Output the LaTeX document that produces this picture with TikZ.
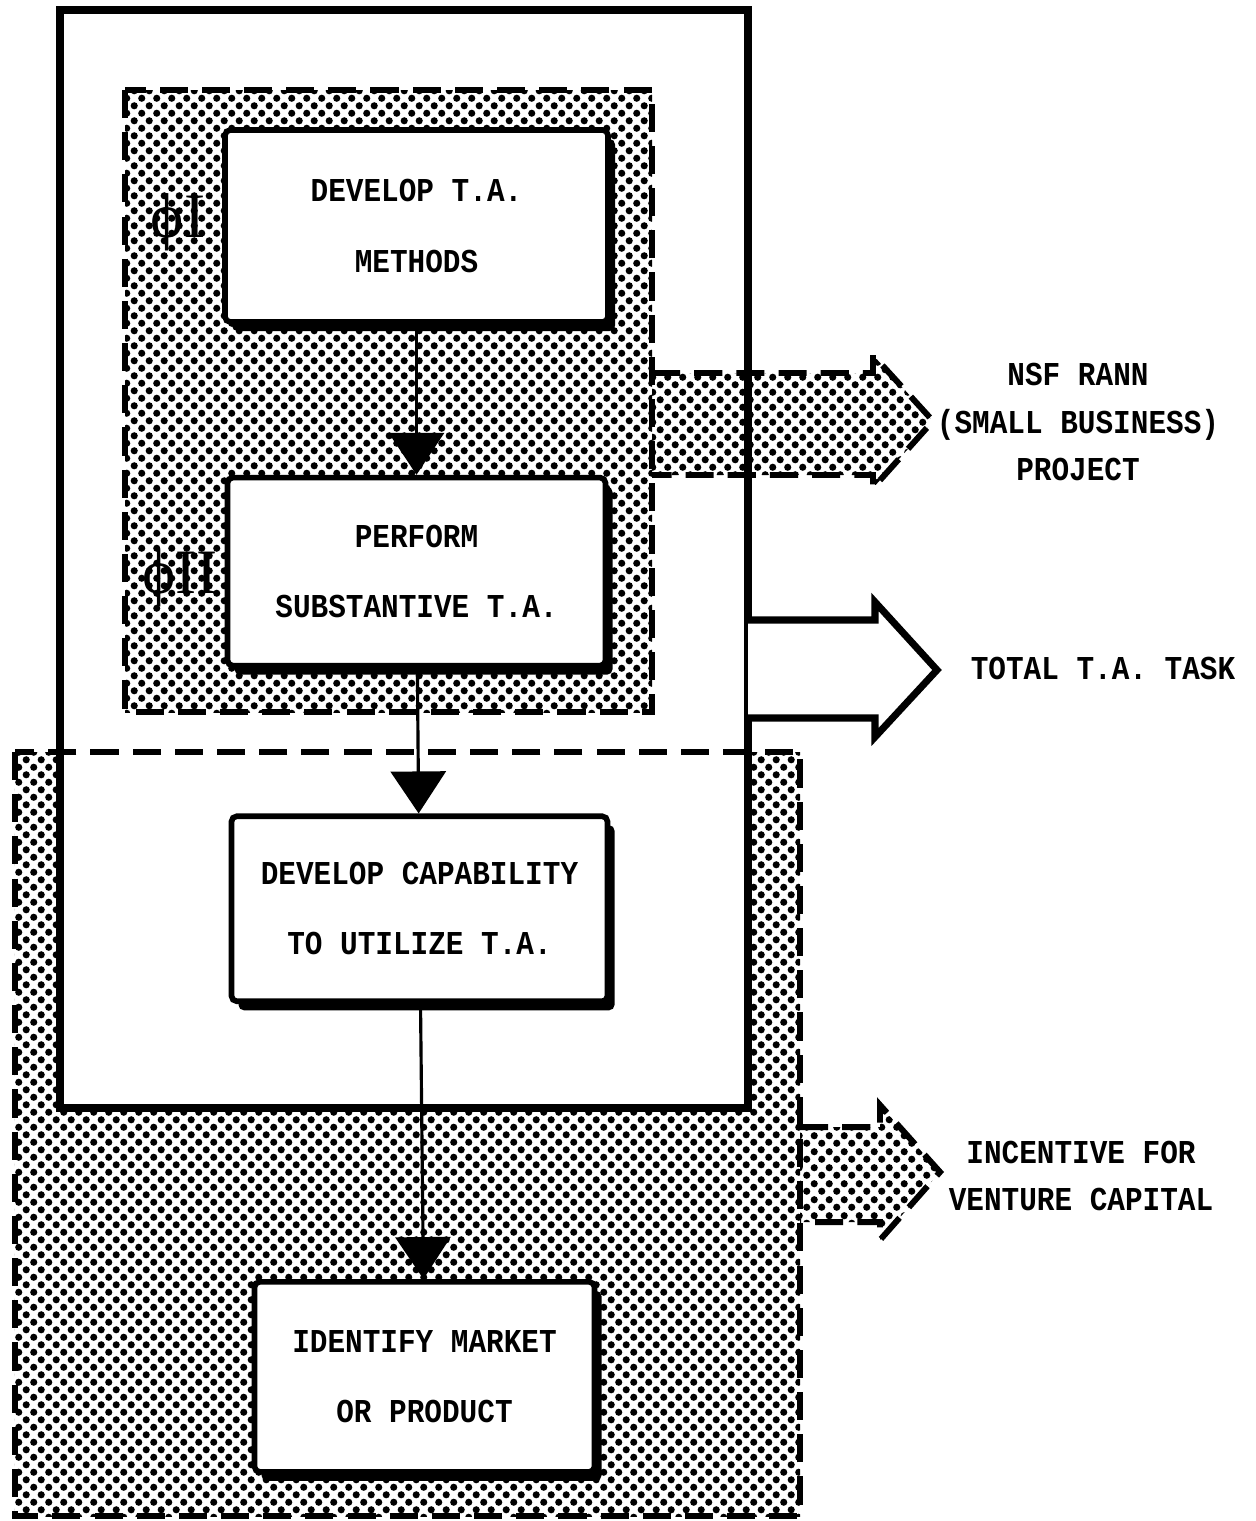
\documentclass[tikz,border=0pt]{standalone}
\usepackage{fontspec}
\setmainfont{Liberation Serif}
\newfontfamily\typefont[FakeStretch=0.88]{Liberation Mono}
\usepackage{tikz}
\usetikzlibrary{arrows.meta,positioning,shadows,patterns.meta}

\tikzdeclarepattern{
  name=halftone,
  type=uncolored,
  bounding box={(0pt,0pt) and (4.4pt,4.4pt)},
  tile size={(4.4pt,4.4pt)},
  code={
    \pgfpathcircle{\pgfpoint{1.1pt}{1.1pt}}{1.05pt}
    \pgfpathcircle{\pgfpoint{3.3pt}{3.3pt}}{1.05pt}
    \pgfusepath{fill}
  }
}

\begin{document}
\begin{tikzpicture}[
  box/.style={draw, line width=1.6pt, fill=white, rounded corners=1.5pt,
              align=center, font=\typefont\fontsize{9.5}{20}\selectfont\bfseries,
              drop shadow={shadow xshift=0.7mm, shadow yshift=-0.9mm,
                           fill=black, opacity=1}},
  shade/.style={pattern=halftone, pattern color=black},
  dashedge/.style={line width=1.7pt, dash pattern=on 8pt off 4pt},
  frame/.style={line width=2.2pt},
  flow/.style={-{Triangle[length=4.2mm, width=5.5mm]}, line width=0.9pt},
  outlbl/.style={align=center, font=\typefont\fontsize{9.5}{13.5}\selectfont\bfseries},
  phase/.style={font=\fontsize{18}{20}\selectfont}
]
  \useasboundingbox (0,0) rectangle (12.56,-15.21);

  % shaded regions
  \fill[shade] (0.15,-7.52) rectangle (8.00,-15.16);
  \fill[white] (0.60,-0.10) rectangle (7.48,-11.08);
  \fill[shade] (1.25,-0.90) rectangle (6.52,-7.12);

  % output arrows (fills)
  \fill[shade] (6.52,-3.73) -- (8.73,-3.73) -- (8.73,-3.55) -- (9.33,-4.21)
    -- (8.73,-4.88) -- (8.73,-4.75) -- (6.52,-4.75) -- cycle;
  \fill[shade] (8.00,-11.27) -- (8.80,-11.27) -- (8.80,-11.05) -- (9.40,-11.72)
    -- (8.80,-12.40) -- (8.80,-12.22) -- (8.00,-12.22) -- cycle;

  % outlines
  \draw[dashedge] (0.15,-7.52) rectangle (8.00,-15.16);
  \draw[frame] (0.60,-0.10) rectangle (7.48,-11.08);
  \draw[dashedge] (1.25,-0.90) rectangle (6.52,-7.12);

  \draw[dashedge] (6.52,-3.73) -- (8.73,-3.73) -- (8.73,-3.55) -- (9.33,-4.21)
    -- (8.73,-4.88) -- (8.73,-4.75) -- (6.52,-4.75);
  \draw[frame, line width=2pt, fill=white] (7.48,-6.20) -- (8.75,-6.20) -- (8.75,-6.02)
    -- (9.37,-6.70) -- (8.75,-7.37) -- (8.75,-7.18) -- (7.48,-7.18);
  \draw[dashedge] (8.00,-11.27) -- (8.80,-11.27) -- (8.80,-11.05) -- (9.40,-11.72)
    -- (8.80,-12.40) -- (8.80,-12.22) -- (8.00,-12.22);

  % process boxes
  \node[box, minimum width=3.83cm, minimum height=1.92cm] (methods) at (4.165,-2.26)
    {DEVELOP T.A.\\METHODS};
  \node[box, minimum width=3.78cm, minimum height=1.88cm, below=1.5cm of methods]
    (substantive) {PERFORM\\SUBSTANTIVE T.A.};
  \node[box, minimum width=3.76cm, minimum height=1.85cm, below=1.45cm of substantive,
    xshift=0.3mm] (capability) {DEVELOP CAPABILITY\\TO UTILIZE T.A.};
  \node[box, minimum width=3.40cm, minimum height=1.90cm, below=2.75cm of capability,
    xshift=0.5mm] (market) {IDENTIFY MARKET\\OR PRODUCT};

  \draw[flow] (methods) -- (substantive);
  \draw[flow] (substantive) -- (capability);
  \draw[flow] (capability) -- (market);

  % phase marks
  \node[phase] (phaseone) at (1.78,-2.22) {ϕI};
  \node[phase] (phasetwo) at (1.80,-5.78) {ϕII};

  % outputs
  \node[outlbl] (nsf) at (10.78,-4.22) {NSF RANN\\(SMALL BUSINESS)\\PROJECT};
  \node[outlbl] (total) at (11.03,-6.68) {TOTAL T.A. TASK};
  \node[outlbl] (venture) at (10.81,-11.76) {INCENTIVE FOR\\VENTURE CAPITAL};
\end{tikzpicture}
\end{document}
